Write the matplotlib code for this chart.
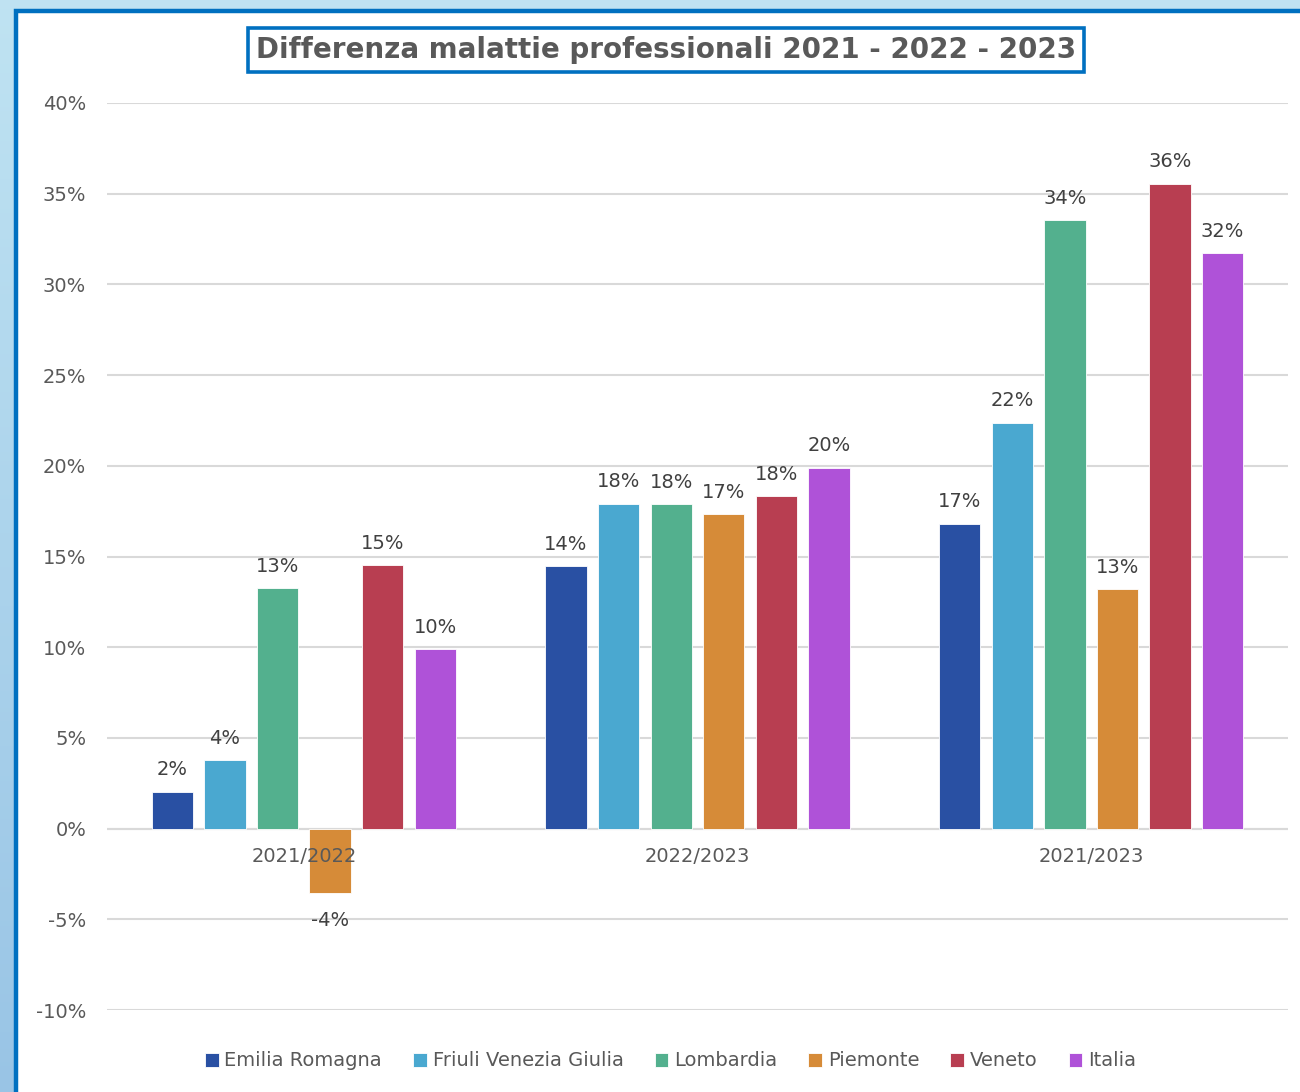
import numpy as np
import matplotlib
matplotlib.use("Agg")
import matplotlib.pyplot as plt
from matplotlib.patches import Rectangle
from matplotlib.ticker import FuncFormatter

categories = ["2021/2022", "2022/2023", "2021/2023"]
series_names = ["Emilia Romagna", "Friuli Venezia Giulia", "Lombardia", "Piemonte", "Veneto", "Italia"]
emilia = [2.04, 14.47, 16.80]
friuli = [3.76, 17.92, 22.37]
lombardia = [13.24, 17.87, 33.55]
piemonte = [-3.53, 17.33, 13.19]
veneto = [14.52, 18.33, 35.54]
italia = [9.88, 19.90, 31.73]
series_values = [emilia, friuli, lombardia, piemonte, veneto, italia]
colors = ["#2950A3", "#4AA8D0", "#53B08E", "#D68B38", "#B83E51", "#AF52D8"]
title = "Differenza malattie professionali 2021 - 2022 - 2023"

plt.rcParams['font.family'] = ['DejaVu Sans']
text_col = "#595959"

W, H = 1300, 1092
fig = plt.figure(figsize=(W / 100, H / 100), dpi=100)

# background gradient
bg = fig.add_axes([0, 0, 1, 1])
bg.set_axis_off()
grad = np.linspace(0, 1, 256).reshape(-1, 1)
c_top = np.array([0.75, 0.89, 0.95])
c_bot = np.array([0.60, 0.77, 0.90])
img = c_top[None, None, :] * (1 - grad[:, :, None]) + c_bot[None, None, :] * grad[:, :, None]
bg.imshow(img, aspect='auto', extent=[0, 1, 0, 1], origin='upper')
bg.set_xlim(0, 1)
bg.set_ylim(0, 1)

# white panel with blue border
panel = Rectangle((16 / W, -0.05), 1.2, 1 - 11 / H + 0.05, transform=fig.transFigure,
                  facecolor="white", edgecolor="#0070C0", linewidth=3.2, zorder=1)
fig.patches.append(panel)

ax = fig.add_axes([107 / W, 1 - 1010 / H, (1288 - 107) / W, (1010 - 103) / H])
ax.set_facecolor("none")
ax.set_zorder(2)

n = len(series_names)
x = np.arange(len(categories))
step = 0.1336
width = 0.105
for i, (name, vals, col) in enumerate(zip(series_names, series_values, colors)):
    pos = x + (i - (n - 1) / 2) * step
    ax.bar(pos, vals, width=width, color=col, label=name, zorder=3,
           edgecolor="white", linewidth=0.6)
    for p, v in zip(pos, vals):
        lab = f"{round(v):.0f}%"
        if v >= 0:
            ax.annotate(lab, (p, v), xytext=(0, 9), textcoords="offset points",
                        ha="center", va="bottom", fontsize=14, color="#404040")
        else:
            ax.annotate(lab, (p, v), xytext=(0, -13), textcoords="offset points",
                        ha="center", va="top", fontsize=14, color="#404040")

ax.set_xlim(-0.5, 2.5)
ax.set_ylim(-10, 40)
ax.set_yticks(np.arange(-10, 41, 5))
ax.yaxis.set_major_formatter(FuncFormatter(lambda v, p: f"{v:.0f}%"))
ax.tick_params(axis='y', length=0, pad=15, labelsize=14, labelcolor=text_col)
ax.set_xticks([])
ax.grid(axis='y', color="#D9D9D9", linewidth=1.5, zorder=0)
ax.set_axisbelow(True)
for s in ax.spines.values():
    s.set_visible(False)
ax.axhline(0, color="#D9D9D9", linewidth=1.5, zorder=2)

for xi, c in zip(x, categories):
    ax.annotate(c, (xi, 0), xytext=(0, -13), textcoords="offset points",
                ha="center", va="top", fontsize=14, color=text_col, zorder=5)

# title
fig.text(666 / W, 1 - 50 / H, title, ha="center", va="center", fontsize=20,
         fontweight="bold", color=text_col,
         bbox=dict(boxstyle="square,pad=0.3", facecolor="white", edgecolor="#0070C0", linewidth=2.6))

ax.legend(loc="center", bbox_to_anchor=(0.5 + (670 - 697) / (1288 - 107), (1010 - 1061) / (1010 - 103)),
          ncol=6, frameon=False, fontsize=14, handlelength=0.7, handleheight=0.7,
          handletextpad=0.3, columnspacing=1.6, labelcolor=text_col)

fig.savefig("out.png", dpi=100)
